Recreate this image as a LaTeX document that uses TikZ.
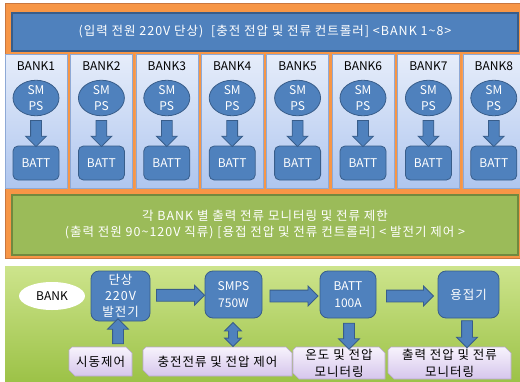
\documentclass[tikz,border=0pt]{standalone}
\usepackage{fontspec}
\setmainfont{Noto Sans CJK KR}
\newfontfamily\kr{Noto Sans CJK KR}[LetterSpace=8]
\usetikzlibrary{shapes.arrows,shapes.geometric,calc}
\definecolor{orfill}{HTML}{F79646}
\definecolor{ordraw}{HTML}{C9773F}
\definecolor{blfill}{HTML}{4F81BD}
\definecolor{bldraw}{HTML}{385D8A}
\definecolor{grfill}{HTML}{9BBB59}
\definecolor{grdraw}{HTML}{71893F}
\definecolor{colTop}{HTML}{E6EDFA}
\definecolor{colBot}{HTML}{AFC6EF}
\definecolor{colDraw}{HTML}{8EA9D6}
\definecolor{lgTop}{HTML}{CDE48C}
\definecolor{lgBot}{HTML}{9CC247}
\definecolor{lvTop}{HTML}{F7F3FC}
\definecolor{lvBot}{HTML}{D6C6EC}
\definecolor{lvDraw}{HTML}{B9A8CF}
\newcommand\lblbox[6]{%
  \shade[top color=lvTop,bottom color=lvBot,draw=lvDraw,line width=0.6pt]
    (#2+3,#3) -- (#4-6,#3) -- (#4,#3+6) -- (#4,#5) -- (#2+6,#5) -- (#2,#5-6) -- (#2,#3+3) -- cycle;
  \node[lbltext] (#1) at ({(#2+#4)/2},{(#3+#5)/2}) {#6};
}
\begin{document}
\begin{tikzpicture}[x=1pt,y=-1pt,
  txt/.style={font=\fontsize{12}{14}\selectfont},
  krtxt/.style={font=\kr\fontsize{12.5}{16}\selectfont},
  bluebar/.style={fill=blfill,draw=bldraw,line width=1.2pt},
  bankcol/.style={top color=colTop,bottom color=colBot,draw=colDraw,line width=0.6pt,inner sep=0},
  smps/.style={ellipse,fill=blfill,draw=bldraw,line width=0.8pt,text=white,minimum width=46pt,minimum height=30pt,inner sep=0,align=center,font=\fontsize{12}{16}\selectfont},
  battbox/.style={rounded corners=5pt,fill=blfill,draw=bldraw,line width=0.8pt,text=white,minimum width=46pt,minimum height=34pt,inner sep=0,font=\fontsize{12}{14}\selectfont},
  blk/.style={fill=blfill,draw=bldraw,line width=0.8pt,inner sep=5pt,single arrow,single arrow head extend=5pt,single arrow head indent=0pt},
  dblk/.style={fill=blfill,draw=bldraw,line width=0.8pt,inner sep=4pt,double arrow,double arrow head extend=4pt},
  flowbox/.style={rounded corners=8pt,fill=blfill,draw=bldraw,line width=0.8pt,text=white,inner sep=0,align=center,font=\kr\fontsize{12.5}{16}\selectfont},
  lbltext/.style={align=center,inner sep=0,font=\kr\fontsize{12.5}{17}\selectfont}
]
\useasboundingbox (0,0) rectangle (520,381);
% top orange frame
\node[fill=orfill,draw=ordraw,line width=0.6pt,minimum width=515pt,minimum height=255pt,inner sep=0] (frame) at (262.5,130.5) {};
\node[bluebar,minimum width=506pt,minimum height=38pt,inner sep=0,text=white,krtxt] (top) at (265,32)
  {(입력 전원 220V 단상)\ \ [충전 전압 및 전류 컨트롤러] <BANK 1\char`~8>};
\foreach \i in {1,...,8}{
  \pgfmathsetmacro\cx{5+65.4*(\i-1)+31}
  \node[bankcol,minimum width=62pt,minimum height=134pt] (bank\i) at (\cx,121) {};
  \node[txt,inner sep=0] (bl\i) at (\cx,66) {BANK\i};
  \node[smps] (smps\i) at (\cx,98) {SM\\PS};
  \node[battbox] (batt\i) at (\cx,163) {BATT};
  \node[blk,minimum height=26pt,rotate=-90] (arr\i) at ($(smps\i.south)!0.5!(batt\i.north)$) {};
}
\node[fill=grfill,draw=grdraw,line width=1.2pt,minimum width=506pt,minimum height=60pt,inner sep=0,text=white,align=center,krtxt] (mid) at (265,225)
  {각 BANK 별 출력 전류 모니터링 및 전류 제한\\(출력 전원 90\char`~120V 직류) [용접 전압 및 전류 컨트롤러] < 발전기 제어 >};
% bottom section
\node[top color=lgTop,bottom color=lgBot,draw=none,minimum width=515pt,minimum height=116pt,inner sep=0] (bottom) at (262.5,324) {};
\node[ellipse,fill=white,minimum width=66pt,minimum height=28pt,inner sep=0,txt] (bank) at (52,296) {BANK};
\node[flowbox,minimum width=59pt,minimum height=50pt] (gen) at (120.5,296) {단상\\220V\\발전기};
\node[flowbox,minimum width=57pt,minimum height=47pt,font=\fontsize{12}{17}\selectfont] (smps) at (233.5,294.5) {SMPS\\750W};
\node[flowbox,minimum width=56pt,minimum height=47pt,font=\fontsize{12}{17}\selectfont] (batt) at (348,294.5) {BATT\\100A};
\node[flowbox,minimum width=61pt,minimum height=47pt] (weld) at (468.5,294.5) {용접기};
\node[blk,minimum height=48pt,inner sep=5.5pt,single arrow head extend=4pt] (h1) at ($(gen.east)!0.5!(smps.west)+(0,0)$) {};
\node[blk,minimum height=48pt,inner sep=5.5pt,single arrow head extend=4pt] (h2) at ($(smps.east)!0.5!(batt.west)+(0,1.5)$) {};
\node[blk,minimum height=47pt,inner sep=5.5pt,single arrow head extend=4pt] (h3) at ($(batt.east)!0.5!(weld.west)+(0,1.5)$) {};
\lblbox{l1}{69}{347}{132}{376}{시동제어}
\lblbox{l2}{143}{347}{292}{376}{충전전류 및 전압 제어}
\lblbox{l3}{293}{347}{385}{379}{온도 및 전압\\모니터링}
\lblbox{l4}{388}{347}{511}{379}{출력 전압 및 전류\\모니터링}
\node[blk,minimum height=25pt,rotate=90] (v1) at (118,334) {};
\node[dblk,minimum height=24pt,rotate=90] (v2) at (233,334.5) {};
\node[blk,minimum height=26pt,rotate=-90] (v3) at (349,333.5) {};
\node[blk,minimum height=27pt,rotate=-90] (v4) at (467,331.5) {};
\end{tikzpicture}
\end{document}
